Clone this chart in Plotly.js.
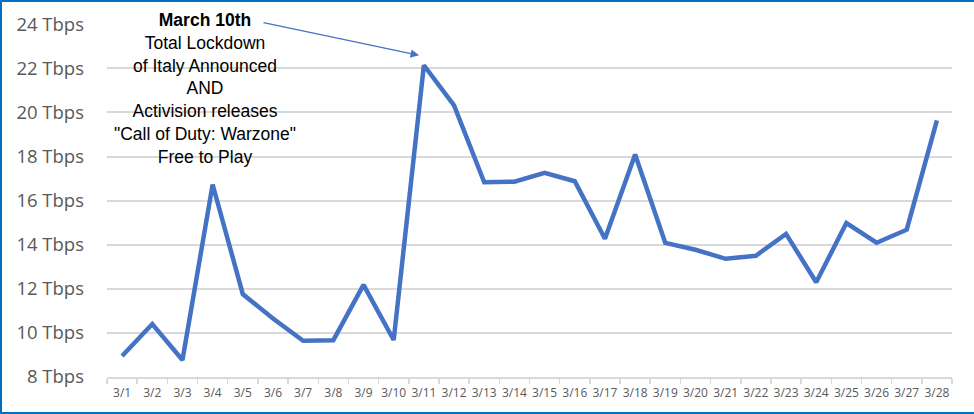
<!DOCTYPE html>
<html>
<head>
<meta charset="utf-8">
<script src="https://cdn.plot.ly/plotly-3.0.1.min.js"></script>
<style>
  html, body { margin: 0; padding: 0; background: #fff; overflow: hidden; }
  #wrap { position: absolute; left: 0; top: 0; width: 974px; height: 414px; box-sizing: border-box; border-left: 2px solid #0070C0; border-top: 2px solid #0070C0; border-bottom: 2px solid #0070C0; overflow: hidden; }
  #chart { position: absolute; left: -2px; top: -2px; width: 974px; height: 414px; }
</style>
</head>
<body>
<div id="wrap"><div id="chart"></div></div>
<script>
const dates = ["3/1","3/2","3/3","3/4","3/5","3/6","3/7","3/8","3/9","3/10","3/11","3/12","3/13","3/14","3/15","3/16","3/17","3/18","3/19","3/20","3/21","3/22","3/23","3/24","3/25","3/26","3/27","3/28"];
const trafficTbps = [8.95,10.4,8.77,16.73,11.76,10.65,9.64,9.67,12.18,9.68,22.14,20.32,16.83,16.86,17.26,16.88,14.27,18.09,14.08,13.77,13.36,13.5,14.49,12.3,14.98,14.09,14.68,19.64];
const yTickVals = [8,10,12,14,16,18,20,22,24];
const yTickText = ["8 Tbps","10 Tbps","12 Tbps","14 Tbps","16 Tbps","18 Tbps","20 Tbps","22 Tbps","24 Tbps"];
const noteLines = ["<b>March 10th</b>","Total Lockdown","of Italy Announced","AND","Activision releases","\"Call of Duty: Warzone\"","Free to Play"];

const trace = {
  x: dates, y: trafficTbps, type: "scatter", mode: "lines",
  line: { color: "#4472C4", width: 4.5, shape: "linear" },
  hoverinfo: "skip"
};

const layout = {
  width: 974, height: 414,
  margin: { l: 107, r: 22, t: 23.5, b: 37, pad: 0 },
  paper_bgcolor: "#fff", plot_bgcolor: "#fff",
  showlegend: false,
  font: { family: "Liberation Sans, Arial, sans-serif", color: "#595959" },
  xaxis: {
    type: "category", range: [-0.5, dates.length - 0.5], showgrid: false, zeroline: false,
    showline: true, linecolor: "#d9d9d9", linewidth: 1.5,
    ticks: "outside", tickson: "boundaries", ticklen: 5, tickcolor: "#d9d9d9", tickwidth: 1.5,
    ticklabelstandoff: 4,
    tickfont: { size: 12, color: "#595959", family: "Open Sans, sans-serif" },
    tickangle: 0, fixedrange: true
  },
  yaxis: {
    range: [8, 24.01], tickvals: yTickVals, ticktext: yTickText,
    showgrid: true, gridcolor: "#d9d9d9", gridwidth: 2, zeroline: false,
    showline: false, ticks: "", ticklabelstandoff: 22,
    tickfont: { size: 18.5, color: "#595959", family: "Open Sans, sans-serif" },
    fixedrange: true
  },
  annotations: [
    {
      xref: "x", yref: "y", x: 9.84, y: 22.59,
      axref: "pixel", ayref: "pixel", ax: -157, ay: -33,
      showarrow: true, arrowhead: 2, arrowsize: 1.3, arrowwidth: 1.3, arrowcolor: "#4472C4",
      text: ""
    },
    {
      xref: "x", yref: "paper", x: 2.75, y: 1 + (23.5 - 7) / 353.5,
      xanchor: "center", yanchor: "top", showarrow: false, align: "center",
      text: noteLines.join("<br>"),
      font: { size: 17.5, color: "#000", family: "Liberation Sans, Arial, sans-serif" }
    }
  ]
};

Plotly.newPlot("chart", [trace], layout, { displayModeBar: false, staticPlot: true });
</script>
</body>
</html>
